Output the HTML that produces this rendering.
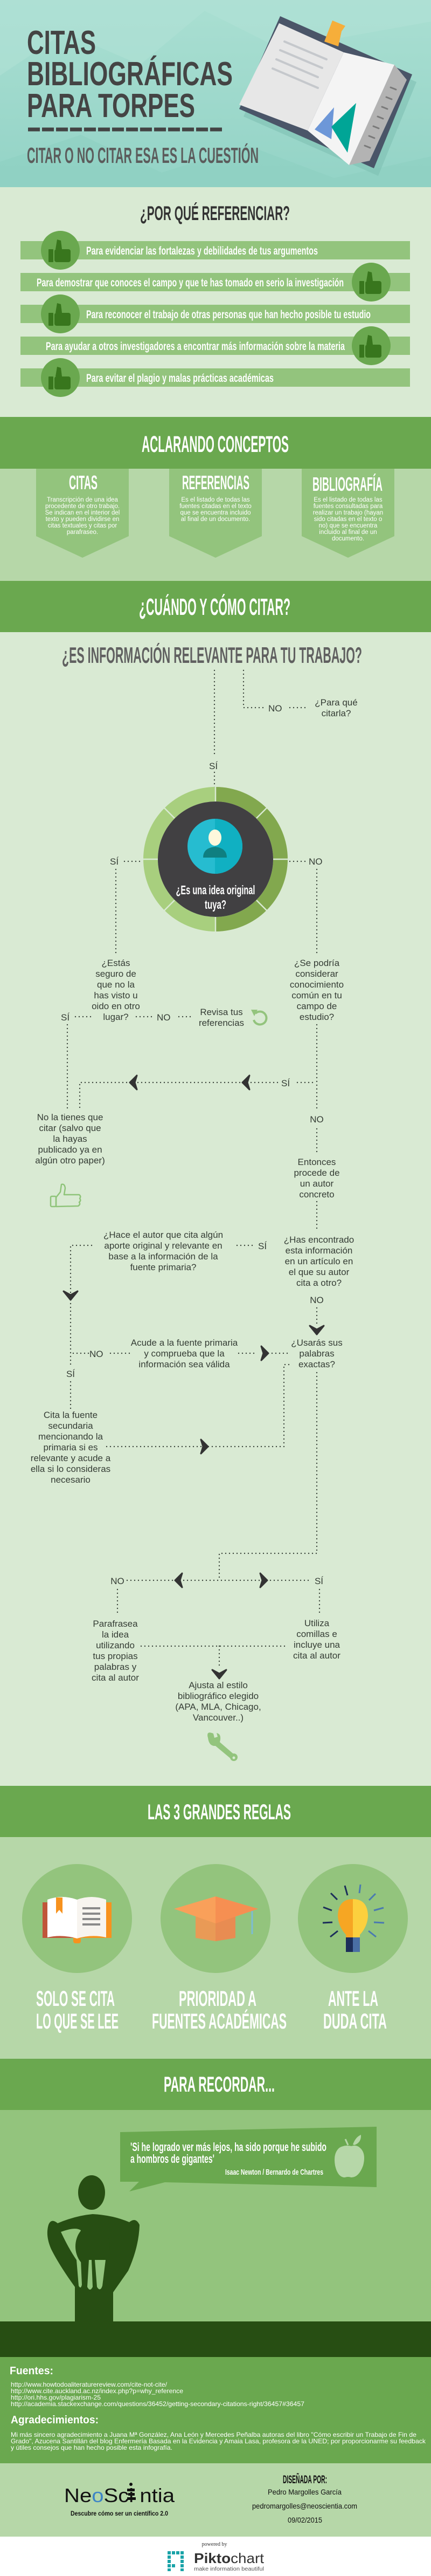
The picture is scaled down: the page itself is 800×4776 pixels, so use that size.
<!DOCTYPE html>
<html><head><meta charset="utf-8"><style>
html,body{margin:0;padding:0;background:#fff}
svg{display:block}
.c{font-family:"Liberation Sans Narrow","Liberation Sans",sans-serif;font-weight:bold}
.f{font-family:"Liberation Sans",sans-serif;font-size:17px;fill:#353d35}
.d{fill:none;stroke:#3c463c;stroke-width:2.4;stroke-dasharray:0 7;stroke-linecap:round}
.w{font-family:"Liberation Sans",sans-serif;fill:#fff}
</style></head><body>
<svg width="800" height="4776" viewBox="0 0 800 4776" xmlns="http://www.w3.org/2000/svg">
<defs>
<linearGradient id="hg" x1="0" y1="0" x2="0" y2="1"><stop offset="0" stop-color="#aadfd2"/><stop offset="1" stop-color="#93d3c6"/></linearGradient>
</defs>
<!-- HEADER -->
<rect x="0" y="0" width="800" height="347" fill="url(#hg)"/>
<polygon points="0,140 120,60 260,120 380,20 520,90 800,40 800,0 0,0" fill="#b0e1d5" opacity="0.6"/>
<polygon points="0,300 150,250 300,320 460,270 620,330 800,290 800,347 0,347" fill="#8fd0c2" opacity="0.7"/>
<text class="c" x="50" y="100" font-size="62" fill="#444" textLength="128" lengthAdjust="spacingAndGlyphs">CITAS</text>
<text class="c" x="50" y="158" font-size="62" fill="#444" textLength="382" lengthAdjust="spacingAndGlyphs">BIBLIOGRÁFICAS</text>
<text class="c" x="50" y="217" font-size="62" fill="#444" textLength="312" lengthAdjust="spacingAndGlyphs">PARA TORPES</text>
<line x1="52" y1="240" x2="412" y2="240" stroke="#444" stroke-width="7" stroke-dasharray="22 4"/>
<text class="c" x="50" y="302" font-size="41" fill="#5c5c5c" textLength="430" lengthAdjust="spacingAndGlyphs">CITAR O NO CITAR ESA ES LA CUESTIÓN</text>
<!-- book -->
<polygon points="528,44 773,152 702,326 452,216" fill="#7fc0b2" opacity="0.6"/>
<polygon points="520,30 765,138 694,312 444,202" fill="#4a5568"/>
<polygon points="732,120 755,148 686,298 648,306" fill="#b3b3b3"/>
<g stroke="#7a7a7a" stroke-width="3" stroke-linecap="round"><line x1="725" y1="162" x2="735" y2="166"/><line x1="717" y1="180" x2="727" y2="184"/><line x1="709" y1="198" x2="719" y2="202"/><line x1="701" y1="216" x2="711" y2="220"/><line x1="693" y1="234" x2="703" y2="238"/><line x1="685" y1="252" x2="695" y2="256"/><line x1="677" y1="270" x2="687" y2="274"/></g>
<polygon points="617,38 641,48 634,58 628,86 602,77" fill="#f6ae3a"/>
<polygon points="518,43 638,97 571,242 444,194" fill="#e7e7e7"/>
<polygon points="638,97 732,120 648,306 571,242" fill="#f4f4f4"/>
<g stroke="#c5c8cc" stroke-width="4" stroke-linecap="round"><line x1="528" y1="77" x2="606" y2="110"/><line x1="520" y1="93" x2="598" y2="126"/><line x1="513" y1="110" x2="590" y2="143"/><line x1="506" y1="127" x2="590" y2="163"/></g>
<polygon points="584,240 620,199 615,258" fill="#6d97d8"/>
<polygon points="615,235 661,191 645,283" fill="#00a596"/>
<!-- POR QUE -->
<rect x="0" y="347" width="800" height="426" fill="#d9ead3"/>
<text class="c" x="260" y="408" font-size="37" fill="#333" textLength="278" lengthAdjust="spacingAndGlyphs">¿POR QUÉ REFERENCIAR?</text>
<g fill="#93c47d"><rect x="38" y="447" width="723" height="34"/><rect x="38" y="506" width="723" height="34"/><rect x="38" y="565" width="723" height="34"/><rect x="38" y="624" width="723" height="34"/><rect x="38" y="683" width="723" height="34"/></g>
<g fill="#6aa84f"><circle cx="112" cy="464" r="36"/><circle cx="689" cy="523" r="36"/><circle cx="112" cy="582" r="36"/><circle cx="689" cy="641" r="36"/><circle cx="112" cy="700" r="36"/></g>
<g fill="#38761d">
<g transform="translate(112,470)"><rect x="-22" y="-8" width="9" height="24" rx="1"/><rect x="-11" y="-8" width="30" height="24" rx="4"/><polygon points="-9,-8 -6,-26 1,-24 3,-8"/></g>
<g transform="translate(689,529)"><rect x="-22" y="-8" width="9" height="24" rx="1"/><rect x="-11" y="-8" width="30" height="24" rx="4"/><polygon points="-9,-8 -6,-26 1,-24 3,-8"/></g>
<g transform="translate(112,588)"><rect x="-22" y="-8" width="9" height="24" rx="1"/><rect x="-11" y="-8" width="30" height="24" rx="4"/><polygon points="-9,-8 -6,-26 1,-24 3,-8"/></g>
<g transform="translate(689,647)"><rect x="-22" y="-8" width="9" height="24" rx="1"/><rect x="-11" y="-8" width="30" height="24" rx="4"/><polygon points="-9,-8 -6,-26 1,-24 3,-8"/></g>
<g transform="translate(112,706)"><rect x="-22" y="-8" width="9" height="24" rx="1"/><rect x="-11" y="-8" width="30" height="24" rx="4"/><polygon points="-9,-8 -6,-26 1,-24 3,-8"/></g>
</g>
<g class="c" font-size="21" fill="#fff">
<text x="160" y="472" textLength="430" lengthAdjust="spacingAndGlyphs">Para evidenciar las fortalezas y debilidades de tus argumentos</text>
<text x="68" y="531" textLength="570" lengthAdjust="spacingAndGlyphs">Para demostrar que conoces el campo y que te has tomado en serio la investigación</text>
<text x="160" y="590" textLength="528" lengthAdjust="spacingAndGlyphs">Para reconocer el trabajo de otras personas que han hecho posible tu estudio</text>
<text x="85" y="649" textLength="555" lengthAdjust="spacingAndGlyphs">Para ayudar a otros investigadores a encontrar más información sobre la materia</text>
<text x="160" y="708" textLength="348" lengthAdjust="spacingAndGlyphs">Para evitar el plagio y malas prácticas académicas</text>
</g>
<!-- ACLARANDO -->
<rect x="0" y="773" width="800" height="96" fill="#6aa84f"/>
<text class="c" x="263" y="838" font-size="43" fill="#fff" textLength="273" lengthAdjust="spacingAndGlyphs">ACLARANDO CONCEPTOS</text>
<rect x="0" y="869" width="800" height="208" fill="#b6d7a8"/>
<g fill="#93c47d">
<polygon points="67,869 239,869 239,994 153,1034 67,994"/>
<polygon points="314,869 486,869 486,994 400,1034 314,994"/>
<polygon points="560,869 732,869 732,994 646,1034 560,994"/>
</g>
<g class="c" font-size="36" fill="#fff">
<text x="128" y="907" textLength="53" lengthAdjust="spacingAndGlyphs">CITAS</text>
<text x="338" y="907" textLength="125" lengthAdjust="spacingAndGlyphs">REFERENCIAS</text>
<text x="580" y="910" textLength="130" lengthAdjust="spacingAndGlyphs">BIBLIOGRAFÍA</text>
</g>
<g class="w" font-size="11.5" text-anchor="middle">
<text x="153" y="930"><tspan x="153">Transcripción de una idea</tspan><tspan x="153" dy="12">procedente de otro trabajo.</tspan><tspan x="153" dy="12">Se indican en el interior del</tspan><tspan x="153" dy="12">texto y pueden dividirse en</tspan><tspan x="153" dy="12">citas textuales y citas por</tspan><tspan x="153" dy="12">parafraseo.</tspan></text>
<text x="400" y="930"><tspan x="400">Es el listado de todas las</tspan><tspan x="400" dy="12">fuentes citadas en el texto</tspan><tspan x="400" dy="12">que se encuentra incluido</tspan><tspan x="400" dy="12">al final de un documento.</tspan></text>
<text x="646" y="930"><tspan x="646">Es el listado de todas las</tspan><tspan x="646" dy="12">fuentes consultadas para</tspan><tspan x="646" dy="12">realizar un trabajo (hayan</tspan><tspan x="646" dy="12">sido citadas en el texto o</tspan><tspan x="646" dy="12">no) que se encuentra</tspan><tspan x="646" dy="12">incluido al final de un</tspan><tspan x="646" dy="12">documento.</tspan></text>
</g>
<!-- CUANDO -->
<rect x="0" y="1077" width="800" height="95" fill="#6aa84f"/>
<text class="c" x="258" y="1140" font-size="44" fill="#fff" textLength="281" lengthAdjust="spacingAndGlyphs">¿CUÁNDO Y CÓMO CITAR?</text>
<rect x="0" y="1172" width="800" height="2139" fill="#d9ead3"/>
<text class="c" x="115" y="1229" font-size="42" fill="#606060" textLength="557" lengthAdjust="spacingAndGlyphs">¿ES INFORMACIÓN RELEVANTE PARA TU TRABAJO?</text>
<!-- flow lines -->
<path class="d" d="M398,1243 V1400"/>
<path class="d" d="M398,1432 V1462"/>
<path class="d" d="M452,1243 V1312 H492"/>
<path class="d" d="M538,1312 H572"/>
<text class="f" x="498" y="1319" font-size="19">NO</text>
<text class="f" text-anchor="middle" x="624" y="1308"><tspan x="624">¿Para qué</tspan><tspan x="624" dy="20">citarla?</tspan></text>
<text class="f" x="388" y="1426" font-size="19">SÍ</text>
<!-- ring -->
<path d="M400,1459 A134,134 0 0 0 400,1727 L400,1700 A107,107 0 0 1 400,1486 Z" fill="#a8cf7e"/>
<path d="M400,1459 A134,134 0 0 1 400,1727 L400,1700 A107,107 0 0 0 400,1486 Z" fill="#82a84e"/>
<g stroke="#d9ead3" stroke-width="2.5">
<line x1="400" y1="1459" x2="400" y2="1486"/><line x1="400" y1="1700" x2="400" y2="1727"/>
<line x1="266" y1="1593" x2="293" y2="1593"/><line x1="507" y1="1593" x2="534" y2="1593"/>
<line x1="305" y1="1498" x2="324" y2="1517"/><line x1="495" y1="1498" x2="476" y2="1517"/>
<line x1="305" y1="1688" x2="324" y2="1669"/><line x1="495" y1="1688" x2="476" y2="1669"/>
</g>
<circle cx="400" cy="1593" r="107" fill="#414042"/>
<circle cx="399" cy="1569" r="51" fill="#26bcd0"/>
<path d="M399,1518 A51,51 0 0 1 399,1620 Z" fill="#10b0c2"/>
<ellipse cx="399" cy="1553" rx="12" ry="15" fill="#fdf8dc"/>
<path d="M377,1590 Q377,1572 399,1570 Q421,1572 421,1590 Z" fill="#0f7f80"/>
<g class="c" font-size="23" fill="#fff" text-anchor="middle">
<text x="400" y="1658" textLength="147" lengthAdjust="spacingAndGlyphs">¿Es una idea original</text>
<text x="400" y="1685" textLength="40" lengthAdjust="spacingAndGlyphs">tuya?</text>
</g>
<text class="f" x="204" y="1603" font-size="19">SÍ</text>
<path class="d" d="M231,1597 H262"/>
<text class="f" x="573" y="1603" font-size="19">NO</text>
<path class="d" d="M538,1597 H568"/>
<path class="d" d="M215,1612 V1768"/>
<path class="d" d="M588,1612 V1768"/>
<g class="f" text-anchor="middle">
<text x="215" y="1791"><tspan x="215">¿Estás</tspan><tspan x="215" dy="20">seguro de</tspan><tspan x="215" dy="20">que no la</tspan><tspan x="215" dy="20">has visto u</tspan><tspan x="215" dy="20">oido en otro</tspan><tspan x="215" dy="20">lugar?</tspan></text>
<text x="588" y="1791"><tspan x="588">¿Se podría</tspan><tspan x="588" dy="20">considerar</tspan><tspan x="588" dy="20">conocimiento</tspan><tspan x="588" dy="20">común en tu</tspan><tspan x="588" dy="20">campo de</tspan><tspan x="588" dy="20">estudio?</tspan></text>
<text x="411" y="1882"><tspan x="411">Revisa tus</tspan><tspan x="411" dy="20">referencias</tspan></text>
</g>
<text class="f" x="113" y="1892" font-size="19">SÍ</text>
<path class="d" d="M140,1885 H172"/>
<path class="d" d="M253,1885 H285"/>
<text class="f" x="291" y="1892" font-size="19">NO</text>
<path class="d" d="M332,1885 H355"/>
<path d="M474,1879 A12,12 0 1 1 471,1891" fill="none" stroke="#93c47d" stroke-width="4"/>
<polygon points="466,1872 478,1872 472,1884" fill="#93c47d"/>
<path class="d" d="M125,1900 V2058"/>
<path class="d" d="M588,1900 V2058"/>
<path class="d" d="M580,2007 H548"/>
<text class="f" x="522" y="2014" font-size="19">SÍ</text>
<path class="d" d="M515,2007 H148 V2058"/>
<path d="M241,2007 L254,1994 L250,2007 L254,2020 Z" fill="#333" stroke="#333" stroke-width="3" stroke-linejoin="round"/>
<path d="M450,2007 L463,1994 L459,2007 L463,2020 Z" fill="#333" stroke="#333" stroke-width="3" stroke-linejoin="round"/>
<text class="f" x="588" y="2081" font-size="19" text-anchor="middle">NO</text>
<path class="d" d="M588,2093 V2140"/>
<g class="f" text-anchor="middle">
<text x="130" y="2077"><tspan x="130">No la tienes que</tspan><tspan x="130" dy="20">citar (salvo que</tspan><tspan x="130" dy="20">la hayas</tspan><tspan x="130" dy="20">publicado ya en</tspan><tspan x="130" dy="20">algún otro paper)</tspan></text>
<text x="588" y="2160"><tspan x="588">Entonces</tspan><tspan x="588" dy="20">procede de</tspan><tspan x="588" dy="20">un autor</tspan><tspan x="588" dy="20">concreto</tspan></text>
</g>
<g fill="none" stroke="#8fc47a" stroke-width="2.5" stroke-linejoin="round"><rect x="94" y="2218" width="10" height="19" rx="2"/><path d="M104,2220 L112,2210 L114,2196 Q120,2194 121,2203 L119,2215 L147,2215 Q151,2218 148,2222 Q151,2226 147,2229 Q150,2233 145,2236 L104,2237 Z"/></g>
<path class="d" d="M588,2228 V2278"/>
<g class="f" text-anchor="middle">
<text x="592" y="2304"><tspan x="592">¿Has encontrado</tspan><tspan x="592" dy="20">esta información</tspan><tspan x="592" dy="20">en un artículo en</tspan><tspan x="592" dy="20">el que su autor</tspan><tspan x="592" dy="20">cita a otro?</tspan></text>
<text x="303" y="2295"><tspan x="303">¿Hace el autor que cita algún</tspan><tspan x="303" dy="20">aporte original y relevante en</tspan><tspan x="303" dy="20">base a la información de la</tspan><tspan x="303" dy="20">fuente primaria?</tspan></text>
<text x="342" y="2495"><tspan x="342">Acude a la fuente primaria</tspan><tspan x="342" dy="20">y comprueba que la</tspan><tspan x="342" dy="20">información sea válida</tspan></text>
<text x="588" y="2495"><tspan x="588">¿Usarás sus</tspan><tspan x="588" dy="20">palabras</tspan><tspan x="588" dy="20">exactas?</tspan></text>
<text x="131" y="2629"><tspan x="131">Cita la fuente</tspan><tspan x="131" dy="20">secundaria</tspan><tspan x="131" dy="20">mencionando la</tspan><tspan x="131" dy="20">primaria si es</tspan><tspan x="131" dy="20">relevante y acude a</tspan><tspan x="131" dy="20">ella si lo consideras</tspan><tspan x="131" dy="20">necesario</tspan></text>
</g>
<text class="f" x="479" y="2316" font-size="19">SÍ</text>
<path class="d" d="M440,2309 H472"/>
<path class="d" d="M170,2309 H131 V2530"/>
<path d="M131,2410 L118,2394 L131,2401 L144,2394 Z" fill="#333" stroke="#333" stroke-width="3" stroke-linejoin="round"/>
<text class="f" x="588" y="2416" font-size="19" text-anchor="middle">NO</text>
<path class="d" d="M588,2425 V2455"/>
<path d="M588,2474 L575,2458 L588,2465 L601,2458 Z" fill="#333" stroke="#333" stroke-width="3" stroke-linejoin="round"/>
<path class="d" d="M136,2509 H165"/>
<text class="f" x="166" y="2516" font-size="19">NO</text>
<path class="d" d="M205,2509 H245"/>
<path class="d" d="M443,2509 H475"/>
<path class="d" d="M505,2509 H540"/>
<path d="M498,2509 L485,2496 L489,2509 L485,2522 Z" fill="#333" stroke="#333" stroke-width="3" stroke-linejoin="round"/>
<text class="f" x="131" y="2553" font-size="19" text-anchor="middle">SÍ</text>
<path class="d" d="M131,2562 V2612"/>
<path class="d" d="M198,2682 H527 V2530 H537"/>
<path d="M386,2682 L373,2669 L377,2682 L373,2695 Z" fill="#333" stroke="#333" stroke-width="3" stroke-linejoin="round"/>
<path class="d" d="M588,2545 V2880 H407 V2930"/>
<path class="d" d="M236,2930 H578"/>
<text class="f" x="218" y="2937" font-size="19" text-anchor="middle">NO</text>
<text class="f" x="592" y="2937" font-size="19" text-anchor="middle">SÍ</text>
<path d="M325,2930 L338,2917 L334,2930 L338,2943 Z" fill="#333" stroke="#333" stroke-width="3" stroke-linejoin="round"/>
<path d="M496,2930 L483,2917 L487,2930 L483,2943 Z" fill="#333" stroke="#333" stroke-width="3" stroke-linejoin="round"/>
<path class="d" d="M218,2947 V2995"/>
<path class="d" d="M593,2947 V2995"/>
<g class="f" text-anchor="middle">
<text x="214" y="3016"><tspan x="214">Parafrasea</tspan><tspan x="214" dy="20">la idea</tspan><tspan x="214" dy="20">utilizando</tspan><tspan x="214" dy="20">tus propias</tspan><tspan x="214" dy="20">palabras y</tspan><tspan x="214" dy="20">cita al autor</tspan></text>
<text x="588" y="3015"><tspan x="588">Utiliza</tspan><tspan x="588" dy="20">comillas e</tspan><tspan x="588" dy="20">incluye una</tspan><tspan x="588" dy="20">cita al autor</tspan></text>
<text x="405" y="3130"><tspan x="405">Ajusta al estilo</tspan><tspan x="405" dy="20">bibliográfico elegido</tspan><tspan x="405" dy="20">(APA, MLA, Chicago,</tspan><tspan x="405" dy="20">Vancouver..)</tspan></text>
</g>
<path class="d" d="M262,3052 H533"/>
<path class="d" d="M407,3052 V3090"/>
<path d="M407,3112 L394,3096 L407,3103 L420,3096 Z" fill="#333" stroke="#333" stroke-width="3" stroke-linejoin="round"/>
<g fill="#93c47d"><path d="M386,3222 Q382,3208 396,3214 L398,3222 L404,3220 L402,3213 Q412,3215 408,3230 L437,3255 L430,3262 L400,3237 Q388,3238 386,3222 Z"/><circle cx="434" cy="3258" r="7"/></g>
<circle cx="434" cy="3259" r="2.5" fill="#d9ead3"/>
<!-- REGLAS -->
<rect x="0" y="3311" width="800" height="95" fill="#6aa84f"/>
<text class="c" x="274" y="3373" font-size="40" fill="#fff" textLength="266" lengthAdjust="spacingAndGlyphs">LAS 3 GRANDES REGLAS</text>
<rect x="0" y="3406" width="800" height="411" fill="#b6d7a8"/>
<g fill="#93c47d"><ellipse cx="143" cy="3557" rx="102" ry="101"/><ellipse cx="400" cy="3557" rx="102" ry="101"/><ellipse cx="655" cy="3557" rx="102" ry="101"/></g>
<!-- book icon -->
<rect x="79" y="3527" width="64" height="66" fill="#c0563a"/>
<rect x="143" y="3527" width="64" height="66" fill="#f7921e"/>
<rect x="136" y="3585" width="14" height="18" rx="4" fill="#f7921e"/>
<path d="M88,3522 Q115,3512 143,3522 L143,3594 Q115,3586 88,3592 Z" fill="#fff"/>
<path d="M143,3522 Q170,3512 197,3522 L197,3592 Q170,3586 143,3594 Z" fill="#f7f4ef"/>
<polygon points="104,3518 116,3518 116,3548 110,3541 104,3548" fill="#f7921e"/>
<g stroke="#8a8a8a" stroke-width="4"><line x1="153" y1="3538" x2="186" y2="3538"/><line x1="153" y1="3548" x2="186" y2="3548"/><line x1="153" y1="3558" x2="186" y2="3558"/><line x1="153" y1="3568" x2="186" y2="3568"/></g>
<!-- cap -->
<polygon points="363,3553 437,3553 437,3593 400,3599 363,3593" fill="#e99a56"/>
<polygon points="400,3553 437,3553 437,3593 400,3599" fill="#e88c52"/>
<polygon points="323,3539 400,3516 479,3539 400,3566" fill="#f9a05a"/>
<polygon points="400,3516 479,3539 400,3566" fill="#f68f52"/>
<line x1="468" y1="3543" x2="468" y2="3586" stroke="#7cbcd4" stroke-width="3"/>
<!-- bulb -->
<path d="M655,3521 Q628,3521 627,3552 Q628,3572 642,3587 L642,3592 L668,3592 L668,3587 Q682,3572 683,3552 Q682,3521 655,3521 Z" fill="#f6a623"/>
<path d="M655,3521 Q682,3521 683,3552 Q682,3572 668,3587 L668,3592 L655,3592 Z" fill="#fcd03e"/>
<rect x="642" y="3592" width="13" height="27" fill="#1c2e5a"/>
<rect x="655" y="3592" width="13" height="27" fill="#4a6fa5"/>
<g stroke-width="3"><line x1="640" y1="3496" x2="645" y2="3514" stroke="#1c2e5a"/><line x1="669" y1="3494" x2="667" y2="3510" stroke="#4a7ab0"/><line x1="614" y1="3510" x2="626" y2="3522" stroke="#1c2e5a"/><line x1="697" y1="3511" x2="685" y2="3523" stroke="#4a7ab0"/><line x1="600" y1="3536" x2="616" y2="3542" stroke="#1c2e5a"/><line x1="712" y1="3537" x2="694" y2="3542" stroke="#4a7ab0"/><line x1="599" y1="3565" x2="617" y2="3564" stroke="#1c2e5a"/><line x1="713" y1="3565" x2="694" y2="3564" stroke="#4a7ab0"/><line x1="613" y1="3591" x2="627" y2="3580" stroke="#1c2e5a"/><line x1="698" y1="3591" x2="684" y2="3580" stroke="#4a7ab0"/></g>
<g class="c" font-size="40" fill="#fff">
<text x="67" y="3719" textLength="146" lengthAdjust="spacingAndGlyphs">SOLO SE CITA</text>
<text x="67" y="3761" textLength="153" lengthAdjust="spacingAndGlyphs">LO QUE SE LEE</text>
<text x="332" y="3719" textLength="144" lengthAdjust="spacingAndGlyphs">PRIORIDAD A</text>
<text x="282" y="3761" textLength="250" lengthAdjust="spacingAndGlyphs">FUENTES ACADÉMICAS</text>
<text x="609" y="3719" textLength="93" lengthAdjust="spacingAndGlyphs">ANTE LA</text>
<text x="600" y="3761" textLength="118" lengthAdjust="spacingAndGlyphs">DUDA CITA</text>
</g>
<!-- RECORDAR -->
<rect x="0" y="3817" width="800" height="95" fill="#6aa84f"/>
<text class="c" x="304" y="3878" font-size="40" fill="#fff" textLength="206" lengthAdjust="spacingAndGlyphs">PARA RECORDAR...</text>
<rect x="0" y="3912" width="800" height="392" fill="#93c47d"/>
<polygon points="223,3953 699,3943 699,4055 306,4046 240,4063 258,4045 223,4045" fill="#6aa84f"/>
<g class="c" fill="#fff">
<text x="242" y="3988" font-size="22" textLength="364" lengthAdjust="spacingAndGlyphs">'Si he logrado ver más lejos, ha sido porque he subido</text>
<text x="242" y="4010" font-size="22" textLength="156" lengthAdjust="spacingAndGlyphs">a hombros de gigantes'</text>
<text x="418" y="4032" font-size="15" textLength="182" lengthAdjust="spacingAndGlyphs">Isaac Newton / Bernardo de Chartres</text>
</g>
<path d="M652,3979 Q640,3976 630,3982 Q618,3992 622,4015 Q627,4037 640,4037 Q646,4035 652,4037 Q666,4037 674,4015 Q680,3992 668,3982 Q662,3976 652,3979 Z" fill="#b6d7a8"/>
<path d="M655,3976 Q660,3962 670,3958 Q671,3972 658,3977 Z" fill="#b6d7a8"/>
<line x1="641" y1="3966" x2="646" y2="3977" stroke="#b6d7a8" stroke-width="3"/>
<g fill="#274e13">
<ellipse cx="170" cy="4065" rx="25" ry="32"/>
<path d="M90,4125 Q95,4112 107,4122 Q140,4108 172,4105 Q210,4107 240,4120 Q252,4110 259,4125 Q258,4165 238,4210 L210,4250 L210,4304 L139,4304 L139,4240 Q110,4200 95,4170 Q84,4145 90,4125 Z"/>
</g>
<path d="M113,4138 Q140,4128 150,4135 Q143,4160 150,4190 L152,4236 Q150,4245 146,4238 L142,4190 Q128,4170 113,4138 Z" fill="#93c47d"/>
<path d="M234,4138 Q205,4128 196,4135 Q205,4160 198,4190 L191,4238 Q187,4245 183,4236 L180,4190 L176,4200 L172,4236 Q170,4246 166,4236 L164,4190 Q150,4170 234,4138 Z" fill="#93c47d" opacity="0"/>
<ellipse cx="172" cy="4165" rx="32" ry="40" fill="#274e13"/>
<path d="M165,4190 L162,4240 Q167,4250 172,4240 L170,4190 Z M176,4190 L180,4240 Q186,4250 190,4238 L196,4190 Z" fill="#93c47d"/>
<rect x="0" y="4304" width="800" height="66" fill="#274e13"/>
<!-- FUENTES -->
<rect x="0" y="4370" width="800" height="197" fill="#6aa84f"/>
<text x="18" y="4402" font-family="Liberation Sans, sans-serif" font-weight="bold" font-size="20" fill="#fff" textLength="81" lengthAdjust="spacingAndGlyphs">Fuentes:</text>
<g class="w" font-size="12">
<text x="20" y="4425" textLength="290" lengthAdjust="spacingAndGlyphs">http://www.howtodoaliteraturereview.com/cite-not-cite/</text>
<text x="20" y="4437" textLength="320" lengthAdjust="spacingAndGlyphs">http://www.cite.auckland.ac.nz/index.php?p=why_reference</text>
<text x="20" y="4449" textLength="167" lengthAdjust="spacingAndGlyphs">http://ori.hhs.gov/plagiarism-25</text>
<text x="20" y="4461" textLength="545" lengthAdjust="spacingAndGlyphs">http://academia.stackexchange.com/questions/36452/getting-secondary-citations-right/36457#36457</text>
</g>
<text x="20" y="4493" font-family="Liberation Sans, sans-serif" font-weight="bold" font-size="20" fill="#fff" textLength="163" lengthAdjust="spacingAndGlyphs">Agradecimientos:</text>
<g class="w" font-size="12">
<text x="20" y="4518" textLength="753" lengthAdjust="spacingAndGlyphs">Mi más sincero agradecimiento a Juana Mª González, Ana León y Mercedes Peñalba autoras del libro "Cómo escribir un Trabajo de Fin de</text>
<text x="20" y="4530" textLength="770" lengthAdjust="spacingAndGlyphs">Grado", Azucena Santillán del blog Enfermería Basada en la Evidencia y Amaia Lasa, profesora de la UNED; por proporcionarme su feedback</text>
<text x="20" y="4542" textLength="300" lengthAdjust="spacingAndGlyphs">y útiles consejos que han hecho posible esta infografía.</text>
</g>
<!-- FOOTER -->
<rect x="0" y="4567" width="800" height="136" fill="#b6d7a8"/>
<text x="119" y="4639" font-family="Liberation Sans, sans-serif" font-size="36" fill="#111" textLength="205" lengthAdjust="spacingAndGlyphs">Ne<tspan fill="#3d85c6">o</tspan>Sci<tspan fill="#111">&#160;</tspan>ntia</text>
<g fill="#111"><rect x="236" y="4614" width="14" height="5"/><rect x="238" y="4622" width="12" height="5"/><rect x="236" y="4630" width="16" height="5"/><circle cx="243" cy="4606" r="3"/></g>
<text x="131" y="4664" font-family="Liberation Sans, sans-serif" font-weight="bold" font-size="12" fill="#111" textLength="181" lengthAdjust="spacingAndGlyphs">Descubre cómo ser un científico 2.0</text>
<text class="c" x="525" y="4604" font-size="21" fill="#111" textLength="82" lengthAdjust="spacingAndGlyphs">DISEÑADA POR:</text>
<g font-family="Liberation Sans, sans-serif" font-size="14" fill="#111">
<text x="497" y="4625" textLength="137" lengthAdjust="spacingAndGlyphs">Pedro Margolles García</text>
<text x="468" y="4651" textLength="195" lengthAdjust="spacingAndGlyphs">pedromargolles@neoscientia.com</text>
<text x="534" y="4677" textLength="64" lengthAdjust="spacingAndGlyphs">09/02/2015</text>
</g>
<rect x="0" y="4703" width="800" height="73" fill="#fff"/>
<text x="398" y="4720" font-family="Liberation Serif, serif" font-size="10" fill="#333" text-anchor="middle">powered by</text>
<g fill="#1aa3a8"><rect x="311" y="4730" width="6" height="6"/><rect x="319" y="4730" width="6" height="6"/><rect x="327" y="4730" width="6" height="6"/><rect x="335" y="4730" width="6" height="6"/><rect x="311" y="4738" width="6" height="6"/><rect x="335" y="4738" width="6" height="6"/><rect x="311" y="4746" width="6" height="6"/><rect x="335" y="4746" width="6" height="6"/><rect x="311" y="4754" width="6" height="6"/><rect x="319" y="4754" width="6" height="6"/><rect x="335" y="4754" width="6" height="6"/><rect x="311" y="4762" width="6" height="5"/><rect x="335" y="4762" width="6" height="5"/></g>
<text x="360" y="4752" font-family="Liberation Sans, sans-serif" font-size="26" fill="#333" textLength="130" lengthAdjust="spacingAndGlyphs"><tspan font-weight="bold">Pikto</tspan>chart</text>
<text x="360" y="4766" font-family="Liberation Sans, sans-serif" font-size="10" fill="#555" textLength="130" lengthAdjust="spacingAndGlyphs">make information beautiful</text>
</svg>
</body></html>
